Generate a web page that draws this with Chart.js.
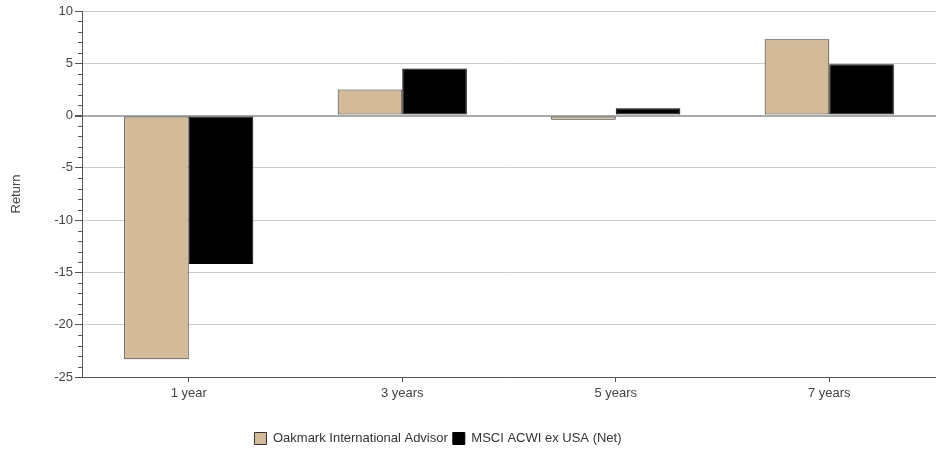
<!DOCTYPE html>
<html>
<head>
<meta charset="utf-8">
<script src="https://cdn.jsdelivr.net/npm/chart.js@4/dist/chart.umd.min.js"></script>
<style>
  html, body { margin: 0; padding: 0; background: #fff; }
  #wrap { width: 936px; height: 455px; position: relative; }
</style>
</head>
<body>
<div id="wrap"><canvas id="c"></canvas></div>
<script>
// Annualised returns by holding period
const categories = ['1 year', '3 years', '5 years', '7 years'];
const fundReturns = [-23.3, 2.5, -0.4, 7.3];
const indexReturns = [-14.2, 4.5, 0.7, 4.9];
const seriesNames = ['Oakmark International Advisor', 'MSCI ACWI ex USA (Net)'];
const yMin = -25, yMax = 10, yStep = 5;

const FONT = '"Liberation Sans", Arial, sans-serif';
Chart.defaults.font.family = FONT;
Chart.defaults.font.size = 13;
Chart.defaults.color = '#444';

// Short minor tick marks every 1 unit on the value axis
const minorTicks = {
  id: 'minorTicks',
  afterDraw(chart) {
    const y = chart.scales.y;
    const ctx = chart.ctx;
    ctx.save();
    ctx.strokeStyle = '#555';
    ctx.lineWidth = 1;
    for (let v = yMin; v <= yMax; v++) {
      if (v % yStep === 0) continue;
      const py = Math.round(y.getPixelForValue(v)) + 0.5;
      ctx.beginPath();
      ctx.moveTo(y.right - 4, py);
      ctx.lineTo(y.right, py);
      ctx.stroke();
    }
    ctx.restore();
  }
};

// Nudge the centred legend a little to the left
const legendNudge = {
  id: 'legendNudge',
  afterLayout(chart) {
    const lg = chart.legend;
    if (lg) lg.right = lg.right - 60;
  }
};

new Chart(document.getElementById('c'), {
  type: 'bar',
  data: {
    labels: categories,
    datasets: [
      {
        label: seriesNames[0],
        data: fundReturns,
        backgroundColor: '#d3bb99',
        borderColor: '#333',
        borderWidth: 1,
        borderSkipped: false
      },
      {
        label: seriesNames[1],
        data: indexReturns,
        backgroundColor: '#000',
        borderColor: '#000',
        borderWidth: 1,
        borderSkipped: false
      }
    ]
  },
  options: {
    responsive: true,
    maintainAspectRatio: false,
    animation: false,
    layout: { padding: { top: 11, right: 0, left: 0, bottom: 0 } },
    datasets: { bar: { categoryPercentage: 0.605, barPercentage: 1.0 } },
    plugins: {
      tooltip: { enabled: false },
      legend: {
        position: 'bottom',
        labels: {
          boxWidth: 12,
          boxHeight: 12,
          padding: 5,
          color: '#333',
          font: { size: 13, family: FONT }
        }
      }
    },
    scales: {
      x: {
        grid: {
          offset: false,
          drawOnChartArea: false,
          drawTicks: true,
          tickLength: 5,
          color: '#555'
        },
        border: { color: '#555', width: 1 },
        ticks: { color: '#444', padding: 4, font: { size: 13 } },
        afterFit(scale) { scale.height = 50; }
      },
      y: {
        min: yMin,
        max: yMax,
        ticks: { stepSize: yStep, color: '#444', padding: 2, font: { size: 13 } },
        grid: {
          tickLength: 7,
          color: (ctx) => ctx.tick && ctx.tick.value === 0 ? '#aaa' : '#ccc',
          lineWidth: (ctx) => ctx.tick && ctx.tick.value === 0 ? 2 : 1,
          tickColor: '#555'
        },
        border: { color: '#555', width: 1 },
        title: {
          display: true,
          text: 'Return',
          color: '#444',
          font: { size: 13, family: FONT },
          padding: { top: 9, bottom: 4 }
        },
        afterFit(scale) { scale.width = 82; }
      }
    }
  },
  plugins: [minorTicks, legendNudge]
});
</script>
</body>
</html>
